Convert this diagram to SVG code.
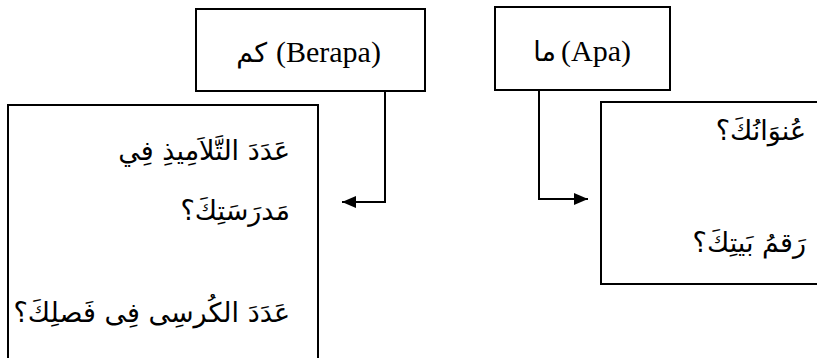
<svg xmlns="http://www.w3.org/2000/svg" width="817" height="358" viewBox="0 0 817 358">
<style>
.box{fill:#fff;stroke:#000;stroke-width:2}
.lat{font-family:"Liberation Serif","Times New Roman","DejaVu Serif",serif;font-size:30px;fill:#000}
.ar{font-family:"DejaVu Sans","Noto Sans",sans-serif;font-size:27px;fill:#000}
.con{fill:none;stroke:#000;stroke-width:2}
</style>
<defs>
<marker id="ah" viewBox="0 0 14 12" refX="14" refY="6" markerWidth="14" markerHeight="12" markerUnits="userSpaceOnUse" orient="auto">
<path d="M0,0 L14,6 L0,12 Z" fill="#000"/>
</marker>
</defs>
<rect width="817" height="358" fill="#fff"/>
<g id="berapa">
<rect class="box" x="196" y="9" width="229" height="82"/>
<text class="ar" x="267" y="62" direction="rtl" font-size="27">كم</text>
<text class="lat" x="276" y="62" font-family="Liberation Serif, serif" font-size="30">(Berapa)</text>
</g>
<g id="apa">
<rect class="box" x="495" y="7" width="175" height="83"/>
<text class="ar" x="556" y="61" direction="rtl" font-size="27">ما</text>
<text class="lat" x="561" y="61" font-family="Liberation Serif, serif" font-size="30">(Apa)</text>
</g>
<g id="left-box">
<rect class="box" x="8" y="105" width="310" height="270"/>
<text class="ar" x="290" y="160" direction="rtl">عَدَدَ التَّلاَمِيذِ فِي</text>
<text class="ar" x="290" y="220" direction="rtl">مَدرَسَتِكَ؟</text>
<text class="ar" x="290" y="322" direction="rtl">عَدَدَ الكُرسِى فِى فَصلِكَ؟</text>
</g>
<g id="right-box">
<rect class="box" x="601" y="102" width="240" height="182"/>
<text class="ar" x="806" y="140" direction="rtl">عُنوَانُكَ؟</text>
<text class="ar" x="806" y="252" direction="rtl">رَقمُ بَيتِكَ؟</text>
</g>
<g id="connectors">
<path class="con" d="M385,91 V202 H342" marker-end="url(#ah)"/>
<path class="con" d="M539,90 V199 H588" marker-end="url(#ah)"/>
</g>
</svg>
